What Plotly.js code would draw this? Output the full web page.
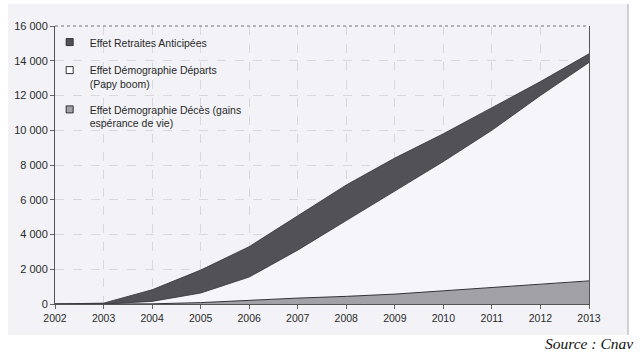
<!DOCTYPE html>
<html>
<head>
<meta charset="utf-8">
<script src="https://cdn.plot.ly/plotly-3.0.1.min.js"></script>
<style>
html,body{margin:0;padding:0;background:#ffffff;}
#chart{width:643px;height:357px;}
</style>
</head>
<body>
<div id="chart"></div>
<script>
// Years (x axis)
const years = [2002, 2003, 2004, 2005, 2006, 2007, 2008, 2009, 2010, 2011, 2012, 2013];

// Series values (stacked)
const effetDeces = [0, 0, 10, 80, 230, 340, 440, 570, 760, 950, 1100, 1330];
const effetDeparts = [0, 0, 140, 550, 1320, 2760, 4360, 5930, 7440, 9050, 10900, 12570];
const effetRetraitesAnticipees = [0, 50, 670, 1320, 1750, 2000, 2050, 1900, 1600, 1300, 800, 500];

// Legend labels
const labelRetraites = "Effet Retraites Anticipées";
const labelDeparts = "Effet Démographie Départs<br>(Papy boom)";
const labelDeces = "Effet Démographie Décès (gains<br>espérance de vie)";

// Axis ticks
const yTicks = [0, 2000, 4000, 6000, 8000, 10000, 12000, 14000, 16000];
const sourceText = "Source : Cnav";

const colDark = "#525256";
const colWhite = "#f6f6fa";
const colGray = "#a2a2a6";
const colEdge = "#333336";

const traces = [
  {
    x: years, y: effetDeces, type: "scatter", mode: "lines",
    stackgroup: "one", name: labelDeces, showlegend: false,
    line: {color: colEdge, width: 1},
    fillcolor: colGray
  },
  {
    x: years, y: effetDeparts, type: "scatter", mode: "lines",
    stackgroup: "one", name: labelDeparts, showlegend: false,
    line: {color: colEdge, width: 0.8},
    fillcolor: colWhite
  },
  {
    x: years, y: effetRetraitesAnticipees, type: "scatter", mode: "lines",
    stackgroup: "one", name: labelRetraites, showlegend: false,
    line: {color: colEdge, width: 0.8},
    fillcolor: colDark
  },
  // legend entries
  {x: [null], y: [null], type: "scatter", mode: "markers", name: labelRetraites,
   legendgroup: "a", marker: {symbol: "square", size: 7, color: colDark, line: {color: colEdge, width: 1}}},
  {x: [null], y: [null], type: "scatter", mode: "markers", name: labelDeparts,
   legendgroup: "b", marker: {symbol: "square", size: 7, color: "#ffffff", line: {color: colEdge, width: 1}}},
  {x: [null], y: [null], type: "scatter", mode: "markers", name: labelDeces,
   legendgroup: "c", marker: {symbol: "square", size: 7, color: colGray, line: {color: colEdge, width: 1}}}
];

const gridCol = "#d8d8e0";

const layout = {
  width: 643, height: 357,
  margin: {l: 55, r: 54, t: 26, b: 53},
  paper_bgcolor: "#ffffff",
  plot_bgcolor: "rgba(0,0,0,0)",
  separators: ", ",
  font: {family: "Liberation Sans, Arial, sans-serif", color: "#2a2a2a", size: 11},
  showlegend: true,
  legend: {
    x: -0.01, xanchor: "left", y: 0.99, yanchor: "top",
    bgcolor: "rgba(0,0,0,0)", borderwidth: 0,
    font: {size: 10.5, color: "#2a2a2a"},
    tracegroupgap: 9, traceorder: "grouped", valign: "top"
  },
  xaxis: {
    range: [2002, 2013], tickmode: "linear", tick0: 2002, dtick: 1,
    showgrid: true, gridcolor: gridCol, griddash: "dash", gridwidth: 1,
    showline: true, linecolor: "#555", linewidth: 1, mirror: false,
    ticks: "outside", ticklen: 4, tickcolor: "#666",
    tickfont: {size: 10.5}, zeroline: false, fixedrange: true
  },
  yaxis: {
    range: [0, 16000], tickvals: yTicks, tickformat: ",d",
    showgrid: true, gridcolor: gridCol, griddash: "dash", gridwidth: 1,
    showline: true, linecolor: "#555", linewidth: 1, mirror: true,
    ticks: "outside", ticklen: 4, tickcolor: "#666",
    tickfont: {size: 11}, zeroline: false, fixedrange: true
  },
  shapes: [
    {type: "rect", xref: "paper", yref: "paper", layer: "below",
     x0: -47/534, x1: 573/534, y0: -31/278, y1: 300/278,
     fillcolor: "#f2f2f7", line: {width: 0}},
    {type: "line", xref: "paper", yref: "paper", layer: "below",
     x0: 573/534, x1: 573/534, y0: -31/278, y1: 300/278,
     line: {color: "#a8a8b0", width: 1}},
    {type: "line", xref: "paper", yref: "paper", layer: "above",
     x0: 0, x1: 1, y0: 1, y1: 1,
     line: {color: "#777", width: 1, dash: "dot"}}
  ],
  annotations: [
    {xref: "paper", yref: "paper", x: 488/534, y: -39/278, xanchor: "left", yanchor: "middle",
     text: sourceText, showarrow: false,
     font: {family: "Liberation Serif, Times New Roman, serif", size: 15.5, color: "#111", style: "italic"}}
  ]
};

Plotly.newPlot("chart", traces, layout, {staticPlot: true, displayModeBar: false});
</script>
</body>
</html>
